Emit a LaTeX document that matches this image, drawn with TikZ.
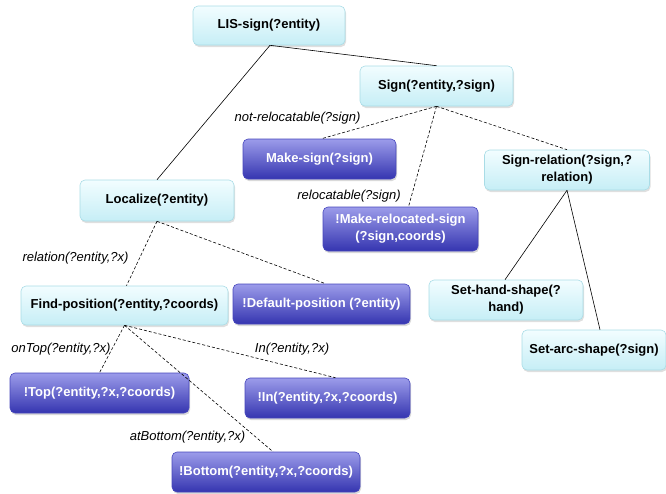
\documentclass[tikz,border=0pt]{standalone}
\usepackage{fontspec}
\setmainfont{Liberation Sans}
\usetikzlibrary{shadows,calc}
\definecolor{ltop}{HTML}{F2FDFF}
\definecolor{lbot}{HTML}{C6EEF6}
\definecolor{lborder}{HTML}{A9DCE6}
\definecolor{btop}{HTML}{9C9CEA}
\definecolor{bbot}{HTML}{3535B0}
\definecolor{bborder}{HTML}{4646BC}
\tikzset{
  lightbox/.style={rectangle, rounded corners=5pt, draw=lborder, line width=0.6pt,
    top color=ltop, bottom color=lbot, align=center, inner sep=2pt,
    font=\fontsize{13}{17}\selectfont\bfseries, text=black,
    drop shadow={shadow xshift=1pt, shadow yshift=-2pt, opacity=0.25}},
  bluebox/.style={rectangle, rounded corners=5pt, draw=bborder, line width=0.6pt,
    top color=btop, bottom color=bbot, align=center, inner sep=2pt,
    font=\fontsize{13}{17}\selectfont\bfseries, text=white,
    drop shadow={shadow xshift=1pt, shadow yshift=-2pt, opacity=0.3}},
  solidedge/.style={draw=black, line width=0.6pt},
  dashedge/.style={draw=black, line width=0.6pt, dashed, dash pattern=on 3pt off 2pt},
  lbl/.style={font=\fontsize{13}{15}\selectfont\itshape, text=black, inner sep=0pt}
}
\begin{document}
\begin{tikzpicture}[x=1pt,y=-1pt]
\useasboundingbox (0,0) rectangle (666,493);
% nodes
\node[lightbox, minimum width=152pt, minimum height=39pt] (lis) at (269,25.5) {LIS-sign(?entity)};
\node[lightbox, minimum width=153pt, minimum height=40pt] (sign) at (436.5,86) {Sign(?entity,?sign)};
\node[bluebox, minimum width=153pt, minimum height=40pt] (make) at (319.5,159) {Make-sign(?sign)};
\node[lightbox, minimum width=165pt, minimum height=40pt] (rel) at (567,170) {Sign-relation(?sign,?\\relation)};
\node[lightbox, minimum width=154pt, minimum height=41pt] (loc) at (157,200.5) {Localize(?entity)};
\node[bluebox, minimum width=155pt, minimum height=44pt] (reloc) at (400.5,229) {!Make-relocated-sign\\(?sign,coords)};
\node[lightbox, minimum width=207pt, minimum height=39pt] (find) at (124.5,305.5) {Find-position(?entity,?coords)};
\node[bluebox, minimum width=177pt, minimum height=40pt] (def) at (321.5,304) {!Default-position (?entity)};
\node[lightbox, minimum width=154pt, minimum height=40pt] (hand) at (506,300) {Set-hand-shape(?\\hand)};
\node[lightbox, minimum width=144pt, minimum height=40pt] (arc) at (594,350) {Set-arc-shape(?sign)};
\node[bluebox, minimum width=179pt, minimum height=40pt] (top) at (99.5,393) {!Top(?entity,?x,?coords)};
\node[bluebox, minimum width=165pt, minimum height=40pt] (in) at (327.5,398) {!In(?entity,?x,?coords)};
\node[bluebox, minimum width=188pt, minimum height=40pt] (bot) at (266,472) {!Bottom(?entity,?x,?coords)};
% edges
\draw[solidedge] ([xshift=1pt]lis.south) -- (loc.north);
\draw[solidedge] ([xshift=1pt]lis.south) -- (sign.north);
\draw[dashedge] (sign.south) -- ([xshift=2pt]make.north);
\draw[dashedge] (sign.south) -- ([xshift=8pt]reloc.north);
\draw[dashedge] (sign.south) -- (rel.north);
\draw[solidedge] (rel.south) -- ([xshift=-1pt]hand.north);
\draw[solidedge] (rel.south) -- ([xshift=6pt]arc.north);
\draw[dashedge] (loc.south) -- ([xshift=2pt]find.north);
\draw[dashedge] (loc.south) -- ([xshift=4pt]def.north);
\draw[dashedge] (find.south) -- (top.north);
\draw[dashedge] (find.south) -- ([xshift=8pt]in.north);
\draw[dashedge] (find.south) -- ([xshift=7pt]bot.north);
% labels
\node[lbl] (l1) at (297.5,118) {not-relocatable(?sign)};
\node[lbl] (l2) at (349,196) {relocatable(?sign)};
\node[lbl] (l3) at (75.5,258) {relation(?entity,?x)};
\node[lbl] (l4) at (61,349) {onTop(?entity,?x)};
\node[lbl] (l5) at (292,349) {In(?entity,?x)};
\node[lbl] (l6) at (187.5,437) {atBottom(?entity,?x)};
\end{tikzpicture}
\end{document}
